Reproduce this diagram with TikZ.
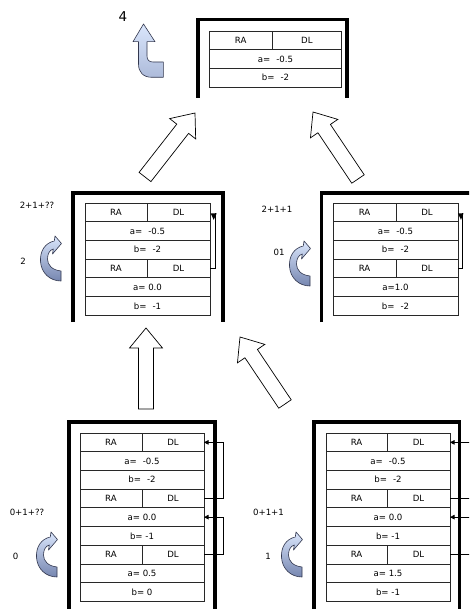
\documentclass[tikz,border=0pt]{standalone}
\usepackage{fontspec}
\setmainfont{DejaVu Sans}
\usetikzlibrary{calc,arrows.meta}
\definecolor{cTop}{RGB}{218,230,252}
\definecolor{cBot}{RGB}{118,134,176}
\definecolor{cLine}{RGB}{50,55,78}
\definecolor{cellline}{RGB}{40,40,40}
\newcommand\tfont{\fontsize{8.6}{10}\selectfont}
\newcommand\wsp{\hspace{6pt}}
\tikzset{
  frame/.style={line width=3.8pt, line cap=butt, line join=miter},
  cell/.style={draw=cellline, line width=0.8pt, rectangle, inner sep=0pt, outer sep=0pt,
    minimum height=18.7pt, anchor=north west, font=\tfont},
  lbl/.style={inner sep=0pt, font=\tfont},
  conn/.style={line width=0.7pt},
  tip/.style={-{Triangle[length=4.5pt,width=4.5pt]}},
  bigarrow/.style={draw=black, fill=white, line width=0.7pt, line join=miter},
  curvarrow/.pic={
    \shade[top color=cTop, bottom color=cBot, draw=cLine, line width=0.6pt, line join=round]
      (21,45) -- (21,35) .. controls (12,34) and (7.5,29) .. (7.5,23)
      .. controls (7.5,18) and (9.5,14) .. (13.3,13) -- (12.5,18) -- (21.5,7.5)
      -- (15,0) -- (14.3,5) .. controls (5,7) and (0,15) .. (0.5,25)
      .. controls (1,37) and (10,45) .. (21,45) -- cycle;
  }
}
% #1 prefix, #2 x, #3 y, #4 left width, #5 right width, #6 a-text, #7 b-text
\newcommand\ttrip[7]{%
  \node[cell, minimum width=#4pt] (#1-ra) at (#2,#3) {RA};
  \node[cell, minimum width=#5pt] (#1-dl) at ($(#2,#3)+(#4,0)$) {DL};
  \node[cell, minimum width={(#4+#5)*1pt}] (#1-a) at ($(#2,#3)+(0,18.7)$) {#6};
  \node[cell, minimum width={(#4+#5)*1pt}] (#1-b) at ($(#2,#3)+(0,37.4)$) {#7};
}
% #1 tail, #2 tip
\newcommand\hollowarrow[2]{%
  \path ($(#2)!20pt!(#1)$) coordinate (hb);
  \draw[bigarrow] ($(#1)!7.5pt!90:(#2)$) -- ($(hb)!7.5pt!90:(#2)$) -- ($(hb)!16.5pt!90:(#2)$)
    -- (#2) -- ($(hb)!16.5pt!-90:(#2)$) -- ($(hb)!7.5pt!-90:(#2)$) -- ($(#1)!7.5pt!-90:(#2)$) -- cycle;
}
\begin{document}
\begin{tikzpicture}[x=1pt,y=-1pt]
\useasboundingbox (0,0) rectangle (469,609);
\clip (0,0) rectangle (469,609);
\fill[white] (0,0) rectangle (469,609);

% frames
\draw[frame] (198,98) -- (198,19.5) -- (347,19.5) -- (347,98);
\draw[frame] (73,322) -- (73,193) -- (223,193) -- (223,322);
\draw[frame] (321.5,322) -- (321.5,193) -- (472,193) -- (472,322);
\draw[frame] (68.7,612) -- (68.7,422) -- (215,422) -- (215,612);
\draw[frame] (314,612) -- (314,422) -- (459.5,422) -- (459.5,612);

% tables
\ttrip{t1}{209.3}{31}{62.7}{69.7}{a=\wsp-0.5}{b=\wsp-2}

\ttrip{ml1}{85}{203}{62}{63}{a=\wsp-0.5}{b=\wsp-2}
\ttrip{ml2}{85}{259.1}{62}{63}{a= 0.0}{b=\wsp-1}

\ttrip{mr1}{333}{203}{63}{62}{a=\wsp-0.5}{b=\wsp-2}
\ttrip{mr2}{333}{259.1}{63}{62}{a=1.0}{b=\wsp-2}

\ttrip{bl1}{80}{433}{62}{62}{a=\wsp-0.5}{b=\wsp-2}
\ttrip{bl2}{80}{489.1}{62}{62}{a= 0.0}{b= -1}
\ttrip{bl3}{80}{545.2}{62}{62}{a= 0.5}{b= 0}

\ttrip{br1}{326}{433}{61}{63}{a=\wsp-0.5}{b=\wsp-2}
\ttrip{br2}{326}{489.1}{61}{63}{a= 0.0}{b= -1}
\ttrip{br3}{326}{545.2}{61}{63}{a= 1.5}{b= -1}

% connectors
\draw[conn,tip] (bl2-dl.east) -- ++(19,0) |- (bl1-dl.east);
\draw[conn,tip] (bl3-dl.east) -- ++(19,0) |- (bl2-a.east);
\draw[conn,tip] (br2-dl.east) -- ++(30,0) |- (br1-dl.east);
\draw[conn,tip] (br3-dl.east) -- ++(30,0) |- (br2-a.east);

\coordinate (mlc) at ($(ml1-dl.east)+(5.7,1)$);
\draw[conn] (ml2-dl.east) -| (mlc);
\fill ($(mlc)+(-5,0)$) -- ($(mlc)+(1,0)$) -- ($(mlc)+(-2,6.5)$) -- cycle;
\coordinate (mrc) at ($(mr1-dl.east)+(4.5,1)$);
\draw[conn] (mr2-dl.east) -| (mrc);
\fill ($(mrc)+(-4.5,0)$) -- ($(mrc)+(1,0)$) -- ($(mrc)+(-1.5,6.5)$) -- cycle;

% big hollow arrows
\coordinate (a1t) at (145,177); \coordinate (a1h) at (195,113);
\coordinate (a2t) at (358,179); \coordinate (a2h) at (313,112);
\coordinate (a3t) at (146,409); \coordinate (a3h) at (146,328);
\coordinate (a4t) at (285,404); \coordinate (a4h) at (240,337);
\hollowarrow{a1t}{a1h}
\hollowarrow{a2t}{a2h}
\hollowarrow{a3t}{a3h}
\hollowarrow{a4t}{a4h}

% curved arrows
\pic at (40,236) {curvarrow};
\pic at (289,241) {curvarrow};
\pic at (36,532) {curvarrow};
\pic at (281,532) {curvarrow};

% top bent arrow
\shade[top color=cTop, bottom color=cBot!45!cTop, draw=cLine, line width=0.6pt, line join=round]
  (143.5,24) -- (155,41.7) -- (147,41.7) -- (147,56) .. controls (147,60) and (149,62) .. (153,62)
  -- (163.3,62) -- (163.3,77.3) -- (152,77.3) .. controls (143,77.3) and (138.5,72) .. (138.5,64)
  -- (138.5,41.7) -- (133,41.7) -- cycle;

% labels
\node[lbl, font=\fontsize{13.5}{15}\selectfont] (l4) at (123,17) {4};
\node[lbl] (lml1) at (37,205) {2+1+??};
\node[lbl] (lml2) at (23,261) {2};
\node[lbl] (lmr1) at (277,209) {2+1+1};
\node[lbl] (lmr2) at (279,252) {01};
\node[lbl] (lbl1) at (27,512.5) {0+1+??};
\node[lbl] (lbl2) at (15.5,556.5) {0};
\node[lbl] (lbr1) at (268.5,512.5) {0+1+1};
\node[lbl] (lbr2) at (268,556.5) {1};
\end{tikzpicture}
\end{document}
